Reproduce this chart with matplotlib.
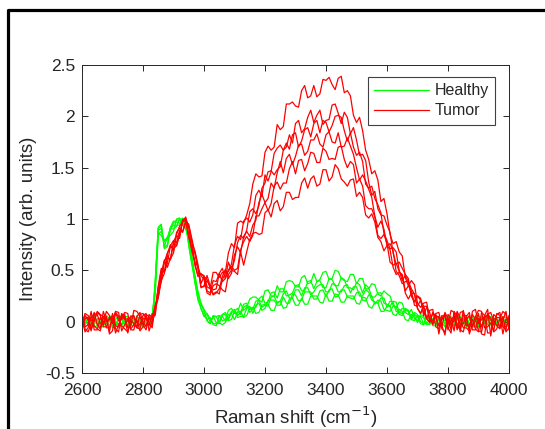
import matplotlib
matplotlib.use("Agg")
import matplotlib.pyplot as plt
from matplotlib.lines import Line2D

plt.rcParams['font.family'] = ['Liberation Sans', 'DejaVu Sans']

# Raman shift sampling (cm^-1): values read at 2600, 2620, ... and at 2610, 2630, ...
shift_even = list(range(2600, 4001, 20))
shift_odd = list(range(2610, 4000, 20))

# ---------------- Healthy spectra (green) ----------------
healthy_1 = [0.02,-0.04,0.05,-0.01,0.03,-0.06,0.04,0.00,-0.03,0.06,-0.02,0.01,
             0.38,0.94,0.75,0.96,0.99,0.91,0.63,0.23,
             0.10,-0.02,0.05,0.01,0.11,0.08,0.18,0.14,0.24,0.21,
             0.30,0.25,0.35,0.29,0.40,0.34,0.43,0.37,0.47,0.41,
             0.49,0.42,0.49,0.40,0.46,0.37,0.42,0.32,0.36,0.25,
             0.27,0.16,0.19,0.09,0.12,0.01,0.05,-0.03,0.04,
             -0.02,0.05,-0.04,0.01,0.03,-0.05,0.02,0.04,-0.03,0.00,0.05,-0.02]
healthy_1_mid = [0.03,-0.04,-0.02,0.05,0.01,-0.05,0.04,0.02,-0.04,-0.01,0.05,-0.03,
                 0.91,0.72,0.90,0.99,0.96,0.82,0.39,0.18,
                 0.01,0.06,0.06,0.02,0.13,0.09,0.11,0.22,0.24,0.19,
                 0.31,0.25,0.29,0.39,0.39,0.34,0.45,0.38,0.39,0.48,
                 0.41,0.50,0.42,0.39,0.46,0.42,0.32,0.37,0.27,0.30,
                 0.25,0.14,0.18,0.07,0.03,0.07,-0.01,0.03,
                 -0.04,0.02,0.05,-0.03,-0.01,0.04,-0.05,0.02,0.03,-0.04,0.01,0.04]
healthy_2 = [-0.03,0.04,0.01,-0.05,0.06,-0.02,-0.04,0.05,0.02,-0.06,0.03,-0.01,
             0.30,0.88,0.82,0.90,1.00,0.95,0.57,0.28,
             0.05,0.03,-0.02,0.07,0.03,0.12,0.09,0.18,0.13,0.22,
             0.18,0.28,0.23,0.32,0.26,0.35,0.30,0.39,0.32,0.40,
             0.33,0.41,0.35,0.41,0.33,0.38,0.28,0.33,0.24,0.28,
             0.17,0.20,0.09,0.13,0.04,0.07,-0.02,0.03,-0.04,
             0.04,-0.01,0.02,-0.05,0.05,0.00,-0.03,0.03,0.01,-0.04,0.02,0.04]
healthy_2_mid = [-0.03,0.04,0.02,-0.05,0.03,0.01,-0.04,0.05,-0.02,-0.04,0.03,0.04,
                 0.85,0.79,0.91,0.93,1.00,0.74,0.45,0.13,
                 0.08,-0.02,-0.01,0.09,0.10,0.06,0.17,0.12,0.14,0.25,
                 0.19,0.29,0.32,0.25,0.28,0.36,0.30,0.40,0.39,0.33,
                 0.42,0.35,0.43,0.33,0.31,0.36,0.36,0.24,0.28,0.18,
                 0.15,0.19,0.08,0.11,0.09,0.00,0.04,-0.04,
                 0.04,-0.02,-0.04,0.05,0.01,-0.03,0.03,-0.05,0.02,0.04,-0.03,0.00]
healthy_3 = [0.04,0.00,-0.05,0.03,-0.02,0.05,0.01,-0.04,0.06,-0.01,-0.05,0.03,
             0.40,0.95,0.73,0.94,0.94,0.97,0.65,0.30,
             0.12,0.00,-0.01,0.07,0.01,0.10,0.07,0.16,0.12,0.21,
             0.16,0.24,0.18,0.27,0.23,0.31,0.25,0.33,0.29,0.36,
             0.29,0.37,0.29,0.35,0.28,0.34,0.25,0.29,0.19,0.23,
             0.14,0.19,0.09,0.12,0.02,0.06,-0.02,0.02,-0.03,
             -0.01,0.03,-0.04,0.05,0.00,0.02,-0.05,0.01,0.04,-0.02,-0.03,0.03]
healthy_3_mid = [0.04,0.01,-0.04,-0.02,0.05,-0.03,0.03,-0.05,0.02,0.04,-0.03,-0.01,
                 0.92,0.71,0.91,0.94,1.01,0.82,0.45,0.18,
                 0.07,0.05,-0.02,0.07,0.02,0.13,0.14,0.09,0.20,0.14,
                 0.15,0.25,0.20,0.30,0.23,0.31,0.33,0.26,0.34,0.36,
                 0.29,0.36,0.29,0.36,0.34,0.25,0.31,0.21,0.18,0.23,
                 0.20,0.10,0.13,0.11,0.01,0.05,-0.02,0.02,
                 0.03,-0.05,0.02,0.04,-0.03,-0.02,0.05,-0.04,0.01,0.03,-0.04,0.02]
healthy_4 = [-0.01,0.05,-0.03,0.02,0.00,-0.04,0.06,-0.02,0.01,0.04,-0.06,0.02,
             0.27,0.84,0.80,0.98,0.96,0.98,0.56,0.21,
             0.06,0.04,-0.04,0.05,0.02,0.10,0.05,0.13,0.08,0.18,
             0.13,0.21,0.16,0.24,0.18,0.26,0.21,0.29,0.22,0.30,
             0.24,0.32,0.25,0.31,0.23,0.28,0.21,0.26,0.17,0.20,
             0.11,0.15,0.07,0.11,0.02,0.05,-0.03,0.03,0.00,
             0.03,-0.04,0.01,0.02,-0.05,0.04,0.00,-0.02,0.05,-0.04,0.02,-0.01]
healthy_4_mid = [-0.02,-0.04,0.03,0.05,-0.03,0.02,0.04,-0.04,-0.01,0.03,0.05,-0.04,
                 0.86,0.78,0.92,0.97,0.95,0.75,0.39,0.13,
                 0.02,-0.03,0.06,0.01,0.09,0.04,0.05,0.15,0.16,0.11,
                 0.21,0.21,0.16,0.18,0.27,0.20,0.29,0.29,0.22,0.31,
                 0.31,0.24,0.31,0.24,0.22,0.29,0.20,0.25,0.21,0.12,
                 0.10,0.14,0.06,0.10,0.07,-0.02,0.05,-0.03,
                 -0.03,0.04,0.01,-0.05,0.03,0.02,-0.04,0.05,-0.02,0.01,0.04,-0.03]
healthy_5 = [0.01,-0.03,0.04,-0.05,0.02,0.03,-0.02,0.05,-0.04,0.00,0.04,-0.03,
             0.35,0.91,0.83,0.88,1.01,0.90,0.60,0.26,
             0.11,-0.02,0.05,-0.03,0.07,0.02,0.10,0.06,0.14,0.09,
             0.17,0.11,0.19,0.13,0.22,0.16,0.23,0.17,0.25,0.19,
             0.27,0.20,0.26,0.19,0.25,0.18,0.24,0.15,0.19,0.10,
             0.15,0.07,0.12,0.02,0.07,-0.01,0.04,-0.02,0.03,
             -0.04,0.02,0.03,-0.02,0.01,-0.04,0.05,-0.01,-0.03,0.04,0.00,-0.05]
healthy_5_mid = [0.02,0.05,-0.03,-0.04,0.04,-0.01,-0.03,0.05,0.03,-0.04,-0.02,0.04,
                 0.89,0.73,0.84,1.00,0.94,0.80,0.40,0.17,
                 0.01,0.05,-0.01,-0.01,0.08,0.09,0.04,0.13,0.08,0.16,
                 0.17,0.11,0.20,0.14,0.23,0.16,0.17,0.25,0.25,0.18,
                 0.20,0.27,0.19,0.25,0.25,0.17,0.23,0.13,0.18,0.10,
                 0.15,0.06,0.10,0.01,0.06,0.05,-0.03,0.02,
                 0.04,-0.02,-0.04,0.03,0.00,-0.05,0.02,0.04,-0.03,0.01,-0.04,0.03]

# ---------------- Tumor spectra (red) ----------------
tumor_1 = [0.03,-0.06,0.08,-0.02,0.05,-0.09,0.01,0.07,-0.04,0.10,-0.03,0.04,
           0.13,0.40,0.66,0.69,0.91,0.98,0.79,0.45,
           0.45,0.32,0.48,0.48,0.67,0.72,0.98,1.04,1.34,1.41,
           1.65,1.67,1.92,1.90,2.12,2.10,2.25,2.18,2.30,2.22,
           2.35,2.31,2.37,2.23,2.20,1.94,1.86,1.58,1.47,1.17,
           1.05,0.76,0.68,0.43,0.40,0.18,0.18,0.02,0.08,
           -0.04,0.07,-0.09,0.03,-0.06,0.10,-0.02,0.05,-0.11,0.04,-0.05,0.06]
tumor_1_mid = [-0.10,0.04,0.07,-0.03,-0.12,0.09,0.02,-0.06,0.11,0.05,-0.08,-0.02,
               0.33,0.47,0.75,0.87,0.88,0.92,0.55,0.46,
               0.34,0.48,0.43,0.48,0.76,0.96,0.96,1.15,1.44,1.42,
               1.71,1.70,1.87,2.12,2.14,2.09,2.30,2.20,2.19,2.36,
               2.38,2.26,2.39,2.25,2.01,1.99,1.67,1.44,1.38,1.20,
               0.85,0.78,0.64,0.35,0.36,0.14,0.19,0.01,
               0.09,-0.13,0.03,0.10,-0.06,-0.09,0.12,0.02,-0.11,0.07,0.04,-0.08]
tumor_2 = [-0.05,0.02,0.09,-0.07,0.00,0.06,-0.10,0.04,0.02,-0.06,0.08,-0.01,
           0.16,0.47,0.53,0.76,0.84,1.01,0.69,0.54,
           0.35,0.35,0.32,0.52,0.50,0.75,0.80,1.01,1.04,1.28,
           1.43,1.46,1.69,1.67,1.82,1.93,1.84,1.99,1.94,2.06,
           1.96,2.11,2.03,2.04,1.83,1.77,1.63,1.36,1.27,1.04,
           0.94,0.67,0.58,0.46,0.25,0.25,0.09,0.11,-0.05,
           0.06,-0.03,0.09,-0.08,0.02,-0.05,0.08,-0.13,0.03,0.07,-0.04,0.01]
tumor_2_mid = [0.06,-0.09,-0.03,0.10,0.02,-0.07,0.08,-0.11,-0.02,0.07,0.03,-0.06,
               0.24,0.60,0.62,0.74,0.99,0.93,0.58,0.33,
               0.45,0.31,0.47,0.42,0.56,0.83,0.98,0.97,1.23,1.22,
               1.37,1.64,1.72,1.70,1.74,1.96,1.88,2.06,2.01,1.92,
               1.97,2.12,1.93,1.99,1.89,1.62,1.57,1.23,1.10,1.03,
               0.87,0.56,0.52,0.42,0.19,0.21,0.03,0.12,
               -0.07,0.05,0.11,-0.04,-0.10,0.06,0.01,-0.12,0.08,-0.03,0.09,-0.05]
tumor_3 = [0.07,-0.03,-0.08,0.04,0.10,-0.02,0.05,-0.07,0.03,-0.01,0.06,-0.09,
           0.08,0.52,0.62,0.67,0.93,0.99,0.77,0.56,
           0.44,0.28,0.39,0.39,0.58,0.60,0.84,0.89,1.10,1.13,
           1.35,1.47,1.48,1.67,1.68,1.84,1.76,1.89,1.93,1.84,
           1.94,1.91,2.01,1.86,1.84,1.62,1.56,1.30,1.20,1.06,
           0.79,0.72,0.50,0.45,0.25,0.25,0.06,0.09,0.06,
           -0.07,0.04,0.01,-0.10,0.06,-0.03,0.11,-0.06,-0.01,0.08,-0.12,0.02]
tumor_3_mid = [-0.05,0.10,-0.08,-0.01,0.06,0.09,-0.04,-0.10,0.05,-0.03,0.08,0.01,
               0.35,0.49,0.61,0.85,0.97,0.82,0.69,0.37,
               0.30,0.40,0.47,0.42,0.50,0.77,0.81,1.07,1.05,1.30,
               1.46,1.43,1.51,1.74,1.82,1.70,1.87,1.80,1.96,1.96,
               1.85,2.00,1.99,1.76,1.70,1.65,1.34,1.32,1.14,0.86,
               0.71,0.68,0.40,0.39,0.20,0.23,0.14,-0.03,
               0.04,-0.10,-0.03,0.09,0.06,-0.12,0.05,0.10,-0.05,-0.09,0.06,0.02]
tumor_4 = [-0.02,0.06,-0.04,-0.09,0.03,0.08,-0.05,0.02,-0.08,0.05,0.00,0.07,
           0.15,0.39,0.64,0.78,0.81,1.00,0.72,0.44,
           0.44,0.33,0.28,0.44,0.42,0.65,0.67,0.88,0.94,1.16,
           1.16,1.35,1.45,1.45,1.63,1.61,1.73,1.66,1.77,1.73,
           1.82,1.75,1.84,1.71,1.71,1.50,1.43,1.29,1.03,0.98,
           0.74,0.69,0.45,0.39,0.32,0.13,0.15,0.01,0.07,
           0.04,-0.08,0.05,0.09,-0.04,0.02,-0.10,0.06,0.03,-0.07,0.10,-0.03]
tumor_4_mid = [0.08,0.02,-0.07,0.05,-0.10,-0.04,0.07,0.03,-0.08,0.09,-0.05,0.04,
               0.25,0.59,0.60,0.84,0.99,0.83,0.58,0.47,
               0.41,0.26,0.32,0.51,0.47,0.73,0.83,0.83,0.99,1.24,
               1.20,1.30,1.56,1.59,1.53,1.72,1.62,1.77,1.83,1.70,
               1.85,1.74,1.70,1.79,1.63,1.38,1.37,1.21,0.92,0.90,
               0.76,0.49,0.37,0.39,0.27,0.08,0.15,-0.01,
               -0.12,0.06,0.02,-0.08,0.10,-0.03,-0.07,0.09,0.04,-0.10,0.03,0.07]
tumor_5 = [0.05,-0.10,0.02,0.06,-0.05,0.01,0.09,-0.03,0.05,-0.06,0.03,-0.04,
           0.06,0.50,0.57,0.79,0.89,0.97,0.81,0.52,
           0.34,0.35,0.29,0.41,0.49,0.50,0.70,0.83,0.84,1.03,
           1.16,1.15,1.36,1.35,1.49,1.44,1.58,1.54,1.64,1.55,
           1.66,1.59,1.70,1.58,1.56,1.35,1.32,1.10,1.02,0.81,
           0.76,0.55,0.49,0.28,0.28,0.13,0.15,-0.01,0.05,
           -0.05,0.03,0.08,-0.06,-0.02,0.07,-0.09,0.04,0.09,-0.04,0.01,-0.08]
tumor_5_mid = [-0.07,-0.02,0.09,-0.05,0.04,0.10,-0.09,0.01,0.06,-0.07,0.03,0.08,
               0.32,0.48,0.74,0.77,0.87,0.95,0.67,0.34,
               0.40,0.27,0.27,0.47,0.54,0.52,0.78,0.78,1.03,1.10,
               1.08,1.32,1.29,1.35,1.56,1.57,1.47,1.65,1.55,1.69,
               1.58,1.58,1.71,1.50,1.53,1.39,1.13,1.10,0.84,0.85,
               0.58,0.57,0.44,0.22,0.27,0.08,0.03,0.09,
               0.05,0.09,-0.08,-0.03,0.11,-0.06,0.02,-0.10,0.07,0.01,-0.07,0.10]
tumor_6 = [-0.08,0.04,0.00,0.07,-0.06,0.03,-0.03,0.09,-0.07,0.02,-0.05,0.05,
           0.12,0.42,0.67,0.71,0.87,1.02,0.70,0.53,
           0.41,0.26,0.37,0.31,0.46,0.49,0.68,0.68,0.86,0.85,
           1.06,1.02,1.18,1.12,1.26,1.21,1.35,1.30,1.42,1.34,
           1.48,1.41,1.49,1.36,1.38,1.22,1.21,1.01,0.97,0.78,
           0.74,0.53,0.48,0.30,0.30,0.15,0.15,0.00,0.06,
           0.02,-0.06,0.10,-0.02,0.05,-0.08,0.03,0.06,-0.14,0.02,0.05,-0.06]
tumor_6_mid = [0.03,-0.08,0.10,0.05,-0.06,-0.11,0.04,0.08,-0.03,-0.09,0.07,0.02,
               0.23,0.58,0.73,0.74,0.97,0.83,0.68,0.45,
               0.28,0.35,0.35,0.29,0.50,0.46,0.55,0.80,0.87,0.86,
               1.09,1.15,1.08,1.26,1.19,1.21,1.40,1.39,1.32,1.48,
               1.37,1.53,1.39,1.32,1.39,1.26,1.04,1.05,0.82,0.69,
               0.70,0.46,0.46,0.35,0.16,0.21,0.03,0.08,
               -0.04,0.08,-0.11,0.05,-0.02,0.09,-0.08,-0.05,0.12,0.03,-0.06,-0.10]

healthy = [(healthy_1, healthy_1_mid), (healthy_2, healthy_2_mid),
           (healthy_3, healthy_3_mid), (healthy_4, healthy_4_mid),
           (healthy_5, healthy_5_mid)]
tumor = [(tumor_1, tumor_1_mid), (tumor_2, tumor_2_mid), (tumor_3, tumor_3_mid),
         (tumor_4, tumor_4_mid), (tumor_5, tumor_5_mid), (tumor_6, tumor_6_mid)]

xticks = [2600, 2800, 3000, 3200, 3400, 3600, 3800, 4000]
yticks = [-0.5, 0, 0.5, 1, 1.5, 2, 2.5]
ytick_labels = ['-0.5', '0', '0.5', '1', '1.5', '2', '2.5']


def combine(even_vals, odd_vals):
    pts = list(zip(shift_even, even_vals)) + list(zip(shift_odd, odd_vals))
    pts.sort()
    return [p[0] for p in pts], [p[1] for p in pts]


W, H = 545, 429
fig = plt.figure(figsize=(W / 100, H / 100), dpi=100)
ax = fig.add_axes([82 / W, 1 - 373 / H, (509 - 82) / W, (373 - 65) / H])

GREEN = (0, 1, 0)
RED = (1, 0, 0)
for i, (ev, od) in enumerate(healthy):
    x, y = combine(ev, od)
    ax.plot(x, y, color=GREEN, lw=0.9, label='Healthy' if i == 0 else None)
for i, (ev, od) in enumerate(tumor):
    x, y = combine(ev, od)
    ax.plot(x, y, color=RED, lw=0.9, label='Tumor' if i == 0 else None)

ax.set_xlim(2600, 4000)
ax.set_ylim(-0.5, 2.5)
ax.set_xticks(xticks)
ax.set_yticks(yticks)
ax.set_yticklabels(ytick_labels)

axc = '#262626'
for sp in ax.spines.values():
    sp.set_color(axc)
    sp.set_linewidth(0.7)
ax.tick_params(axis='both', direction='in', top=True, right=True,
               length=4, width=0.7, color=axc, labelcolor=axc, labelsize=12.5)
ax.tick_params(axis='x', pad=7)
ax.tick_params(axis='y', pad=5)

ax.set_xlabel('Raman shift (cm$^{-1}$)', fontsize=13.5, color=axc, labelpad=5)
ax.set_ylabel('Intensity (arb. units)', fontsize=13.5, color=axc, labelpad=6)

leg = ax.legend(loc='upper right', bbox_to_anchor=(495 / W, 1 - 77 / H),
                bbox_transform=fig.transFigure, borderaxespad=0,
                fancybox=False, fontsize=11.5, handlelength=3.4,
                handletextpad=0.35, labelspacing=0.3, borderpad=0.4,
                framealpha=1)
leg.get_frame().set_edgecolor('#404040')
leg.get_frame().set_linewidth(0.8)
for t in leg.get_texts():
    t.set_color(axc)

# outer black frame (partially cropped)
fig.add_artist(Line2D([8 / W, 8 / W, 1.2], [-0.2, 1 - 10 / H, 1 - 10 / H],
                      transform=fig.transFigure, color='black', lw=2.3))

fig.savefig('out.png', dpi=100)
